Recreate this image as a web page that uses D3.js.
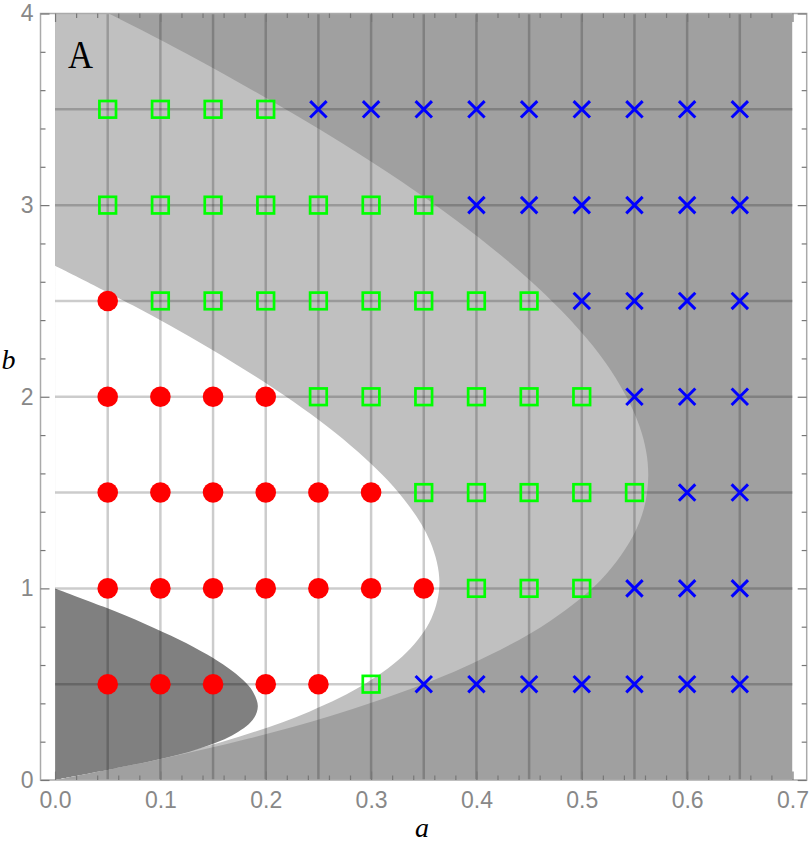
<!DOCTYPE html>
<html>
<head>
<meta charset="utf-8">
<script src="https://d3js.org/d3.v7.min.js"></script>
<style>
    body { margin: 0; background: #fff; }
    svg { display: block; }
</style>
</head>
<body>
<div id="space"></div>
<script>

// parameter grid that was simulated
var aValues = [0.05, 0.10, 0.15, 0.20, 0.25, 0.30, 0.35, 0.40, 0.45, 0.50, 0.55, 0.60, 0.65];
var bValues = [3.5, 3.0, 2.5, 2.0, 1.5, 1.0, 0.5];

// outcome per grid point, one string per b row (c = circle, s = square, x = cross)
var rowOutcomes = [
    "ssssxxxxxxxxx",
    "sssssssxxxxxx",
    "cssssssssxxxx",
    "ccccssssssxxx",
    "ccccccsssssxx",
    "cccccccsssxxx",
    "cccccsxxxxxxx"
];

var xTicks = [0, 0.1, 0.2, 0.3, 0.4, 0.5, 0.6, 0.7];
var yTicks = [0, 1, 2, 3, 4];

// region boundaries [a, b]
var hopfCurve = [[0, 0], [0.0495, 0.0505], [0.096, 0.104], [0.1365, 0.1635], [0.168, 0.232],
    [0.1875, 0.3125], [0.1925, 0.385], [0.1877, 0.4623], [0.1785, 0.5215], [0.164, 0.586],
    [0.144, 0.656], [0.118, 0.732], [0.0855, 0.8145], [0.0463, 0.9037], [0, 1]];

var innerCurve = [[0, 0], [0.0937, 0.1063], [0.1746, 0.2254], [0.2419, 0.3581], [0.2952, 0.5048],
    [0.3338, 0.6662], [0.3572, 0.8428], [0.3649, 1.0301], [0.3562, 1.2438], [0.3306, 1.4694],
    [0.2875, 1.7125], [0.2264, 1.9736], [0.1466, 2.2534], [0.0742, 2.4758], [0, 2.684]];

var outerCurve = [[0, 0], [0.096, 0.104], [0.1837, 0.2163], [0.2629, 0.3371], [0.3334, 0.4666],
    [0.395, 0.605], [0.47, 0.83], [0.5235, 1.0765], [0.5547, 1.3453], [0.5631, 1.5894],
    [0.5549, 1.8451], [0.5226, 2.1774], [0.465, 2.535], [0.3813, 2.9187], [0.2707, 3.3293],
    [0.1324, 3.7676], [0, 4.142]];

var svg, x, y, shape;

function init() {
    svg = d3.select("#space").append("svg")
        .attr("xmlns", "http://www.w3.org/2000/svg")
        .attr("width", 812)
        .attr("height", 843);

    x = d3.scaleLinear().domain([-0.0138, 0.7135]).range([40.5, 806.7]);
    y = d3.scaleLinear().domain([0, 4]).range([780, 13.5]);

    shape = d3.line()
        .x(function (d) { return x(d[0]); })
        .y(function (d) { return y(d[1]); })
        .curve(d3.curveCatmullRom.alpha(0.5));

    drawRegions();
    drawGrid();
    drawFrame();
    drawMarkers();
    drawLabels();
}

// closed along the a = 0 edge
function closedPath(points) {
    return shape(points) + "Z";
}

function drawRegions() {
    var defs = svg.append("defs");
    defs.append("clipPath").attr("id", "plotClip")
        .append("rect")
        .attr("x", x(0)).attr("y", y(4))
        .attr("width", x(0.7) - x(0)).attr("height", y(0) - y(4));
    defs.append("clipPath").attr("id", "outerClip")
        .append("path").attr("d", closedPath(outerCurve));

    var g = svg.append("g").attr("clip-path", "url(#plotClip)");

    g.append("rect")
        .attr("x", x(0)).attr("y", y(4))
        .attr("width", x(0.7) - x(0)).attr("height", y(0) - y(4))
        .attr("fill", "#a0a0a0");

    g.append("path").attr("d", closedPath(outerCurve)).attr("fill", "#c0c0c0");
    g.append("path").attr("d", closedPath(innerCurve)).attr("fill", "#ffffff");

    //Hopf region only shows inside the outer curve
    g.append("g").attr("clip-path", "url(#outerClip)")
        .append("path").attr("d", closedPath(hopfCurve)).attr("fill", "#808080");
}

function drawGrid() {
    var g = svg.append("g")
        .attr("stroke", "#000")
        .attr("stroke-opacity", 0.2)
        .attr("stroke-width", 2.5);

    g.selectAll(".vgrid").data(aValues).enter()
        .append("line")
        .attr("x1", function (d) { return x(d); })
        .attr("x2", function (d) { return x(d); })
        .attr("y1", y(0)).attr("y2", y(4));

    g.selectAll(".hgrid").data(bValues).enter()
        .append("line")
        .attr("y1", function (d) { return y(d); })
        .attr("y2", function (d) { return y(d); })
        .attr("x1", x(0)).attr("x2", x(0.7));
}

function styleAxis(g) {
    g.select(".domain").remove();
    g.selectAll("line").attr("stroke", "#777").attr("stroke-width", 1.2);
    g.selectAll("text")
        .attr("fill", "#888")
        .attr("font-family", "Liberation Sans, Arial, sans-serif")
        .attr("font-size", 23);
}

function drawFrame() {
    var left = x.range()[0], right = x.range()[1];
    var top = y.range()[1], bottom = y.range()[0];

    svg.append("rect")
        .attr("x", left).attr("y", top)
        .attr("width", right - left).attr("height", bottom - top)
        .attr("fill", "none")
        .attr("stroke", "#aaa")
        .attr("stroke-width", 1.5);

    var xMinor = d3.range(0, 0.711, 0.02).filter(function (v) { return Math.abs(v * 10 - Math.round(v * 10)) > 1e-6; });
    var yMinor = d3.range(0, 4.01, 0.2).filter(function (v) { return Math.abs(v - Math.round(v)) > 1e-6; });

    //Major ticks with labels
    svg.append("g").attr("transform", "translate(0," + bottom + ")")
        .call(d3.axisBottom(x).tickValues(xTicks).tickSizeInner(-8.5).tickSizeOuter(0)
            .tickPadding(12).tickFormat(d3.format(".1f")))
        .call(styleAxis);
    svg.append("g").attr("transform", "translate(" + left + ",0)")
        .call(d3.axisLeft(y).tickValues(yTicks).tickSizeInner(-9).tickSizeOuter(0)
            .tickPadding(7).tickFormat(d3.format("d")))
        .call(styleAxis);
    svg.append("g").attr("transform", "translate(0," + top + ")")
        .call(d3.axisTop(x).tickValues(xTicks).tickSizeInner(-8.5).tickSizeOuter(0).tickFormat(""))
        .call(styleAxis);
    svg.append("g").attr("transform", "translate(" + right + ",0)")
        .call(d3.axisRight(y).tickValues(yTicks).tickSizeInner(-9).tickSizeOuter(0).tickFormat(""))
        .call(styleAxis);

    //Minor ticks
    svg.append("g").attr("transform", "translate(0," + bottom + ")")
        .call(d3.axisBottom(x).tickValues(xMinor).tickSizeInner(-4.5).tickSizeOuter(0).tickFormat(""))
        .call(styleAxis);
    svg.append("g").attr("transform", "translate(0," + top + ")")
        .call(d3.axisTop(x).tickValues(xMinor).tickSizeInner(-4.5).tickSizeOuter(0).tickFormat(""))
        .call(styleAxis);
    svg.append("g").attr("transform", "translate(" + left + ",0)")
        .call(d3.axisLeft(y).tickValues(yMinor).tickSizeInner(-5).tickSizeOuter(0).tickFormat(""))
        .call(styleAxis);
    svg.append("g").attr("transform", "translate(" + right + ",0)")
        .call(d3.axisRight(y).tickValues(yMinor).tickSizeInner(-5).tickSizeOuter(0).tickFormat(""))
        .call(styleAxis);
}

function drawMarkers() {
    var points = [];
    for (var i = 0; i < bValues.length; i++) {
        for (var j = 0; j < aValues.length; j++) {
            points.push({ a: aValues[j], b: bValues[i], kind: rowOutcomes[i].charAt(j) });
        }
    }

    var g = svg.append("g");

    g.selectAll(".circle").data(points.filter(function (p) { return p.kind == "c"; })).enter()
        .append("circle")
        .attr("cx", function (d) { return x(d.a); })
        .attr("cy", function (d) { return y(d.b); })
        .attr("r", 10.3)
        .attr("fill", "#ff0000");

    var side = 16.6;
    g.selectAll(".square").data(points.filter(function (p) { return p.kind == "s"; })).enter()
        .append("rect")
        .attr("x", function (d) { return x(d.a) - side / 2; })
        .attr("y", function (d) { return y(d.b) - side / 2; })
        .attr("width", side).attr("height", side)
        .attr("fill", "none")
        .attr("stroke", "#00ff00")
        .attr("stroke-width", 2.7);

    var arm = 8.2;
    g.selectAll(".cross").data(points.filter(function (p) { return p.kind == "x"; })).enter()
        .append("path")
        .attr("d", function (d) {
            var cx = x(d.a), cy = y(d.b);
            return "M" + (cx - arm) + "," + (cy - arm) + "L" + (cx + arm) + "," + (cy + arm) +
                "M" + (cx - arm) + "," + (cy + arm) + "L" + (cx + arm) + "," + (cy - arm);
        })
        .attr("fill", "none")
        .attr("stroke", "#0000ff")
        .attr("stroke-width", 3);
}

function drawLabels() {
    svg.append("text")
        .attr("x", 68).attr("y", 67.5)
        .attr("font-family", "Liberation Serif, Times New Roman, serif")
        .attr("font-size", 41)
        .attr("textLength", 25)
        .attr("lengthAdjust", "spacingAndGlyphs")
        .attr("fill", "#000")
        .text("A");

    svg.append("text")
        .attr("x", 422).attr("y", 837)
        .attr("text-anchor", "middle")
        .attr("font-family", "Liberation Serif, Times New Roman, serif")
        .attr("font-style", "italic")
        .attr("font-size", 28)
        .text("a");

    svg.append("text")
        .attr("x", 1.5).attr("y", 369)
        .attr("font-family", "Liberation Serif, Times New Roman, serif")
        .attr("font-style", "italic")
        .attr("font-size", 28)
        .text("b");
}

init();
</script>
</body>
</html>
